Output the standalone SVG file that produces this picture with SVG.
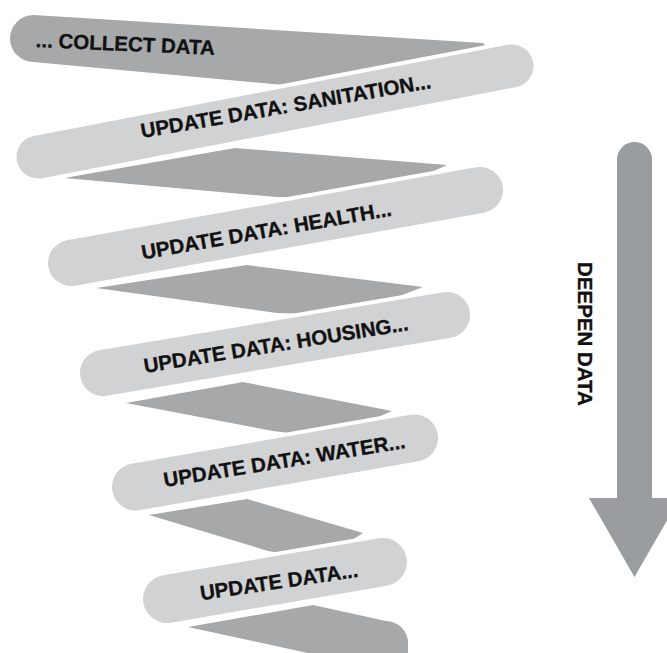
<svg xmlns="http://www.w3.org/2000/svg" width="667" height="653" viewBox="0 0 667 653">
  <style>
    .dark { fill: #a6a8a9; }
    .light { fill: #d1d2d3; stroke: #ffffff; stroke-width: 8; paint-order: stroke; }
    .arrow { fill: #9a9d9f; }
    .lbl { font-family: "Liberation Sans", Arial, Helvetica, sans-serif; font-weight: bold; font-size: 20.5px; fill: #111111; stroke: #111111; stroke-width: 0.35; }
  </style>
  <rect width="667" height="653" fill="#ffffff"/>
  <g id="back-faces">
    <path id="back-1" class="dark" d="M33.5,15 L483,43 L490,50 L315,88 L33.5,62 A23.5,23.5 0 0 1 33.5,15 Z"/>
    <polygon id="back-2" class="dark" points="64,178 235,148 447,165 370,200 277,197"/>
    <polygon id="back-3" class="dark" points="96,288 247,265 423,287 350,315 277,313"/>
    <polygon id="back-4" class="dark" points="126,403 243,382 392,411 330,438 273,431"/>
    <polygon id="back-5" class="dark" points="149,515 247,499 363,533 320,560 268,551"/>
    <path id="back-6" class="dark" d="M188,627 L313,605 L386,621 A22,22 0 0 1 408,643 L408,660 L340,660 Z"/>
  </g>
  <g id="collect">
    <text class="lbl" text-anchor="middle" transform="translate(125,51) rotate(2.5)">... COLLECT DATA</text>
  </g>
  <g id="sanitation">
    <rect class="light" x="-262.85" y="-21.5" width="525.7" height="43" rx="21.5" ry="21.5" transform="translate(275,111.5) rotate(-10.87)"/>
    <text class="lbl" text-anchor="middle" transform="translate(287,113) rotate(-9.8)">UPDATE DATA: SANITATION...</text>
  </g>
  <g id="health">
    <rect class="light" x="-230.75" y="-23" width="461.5" height="46" rx="23" ry="23" transform="translate(275.5,226.5) rotate(-10.12)"/>
    <text class="lbl" text-anchor="middle" transform="translate(267.5,237.5) rotate(-10)">UPDATE DATA: HEALTH...</text>
  </g>
  <g id="housing">
    <rect class="light" x="-197.45" y="-23" width="394.9" height="46" rx="23" ry="23" transform="translate(275,344) rotate(-9.57)"/>
    <text class="lbl" text-anchor="middle" transform="translate(277,351.5) rotate(-9.2)">UPDATE DATA: HOUSING...</text>
  </g>
  <g id="water">
    <rect class="light" x="-165.15" y="-23.5" width="330.3" height="47" rx="23.5" ry="23.5" transform="translate(275,462.5) rotate(-9.96)"/>
    <text class="lbl" text-anchor="middle" transform="translate(285.5,467.5) rotate(-9.2)">UPDATE DATA: WATER...</text>
  </g>
  <g id="update">
    <rect class="light" x="-133.55" y="-24" width="267.1" height="48" rx="24" ry="24" transform="translate(275,580.5) rotate(-9.72)"/>
    <text class="lbl" text-anchor="middle" transform="translate(280,588.5) rotate(-8.5)">UPDATE DATA...</text>
  </g>
  <g id="deepen">
    <path class="arrow" d="M617,159.5 A17.5,17.5 0 0 1 652,159.5 L652,498 L680,498 L634.5,577 L589,498 L617,498 Z"/>
    <text class="lbl" transform="translate(578,262) rotate(90)">DEEPEN DATA</text>
  </g>
</svg>
